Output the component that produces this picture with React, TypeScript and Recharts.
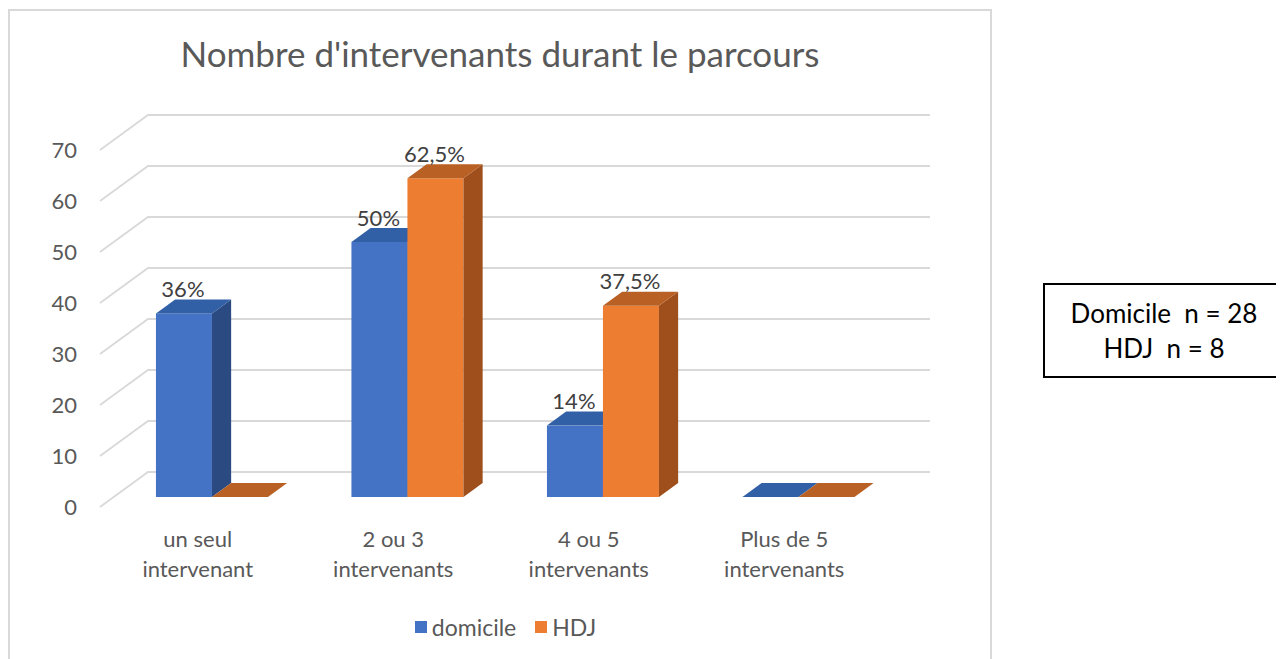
import React from "react";
import { BarChart, Bar, XAxis, YAxis, CartesianGrid, Legend, LabelList } from "recharts";

const categories = ["un seul intervenant", "2 ou 3 intervenants", "4 ou 5 intervenants", "Plus de 5 intervenants"];
const domicileValues = [36, 50, 14, 0];
const hdjValues = [0, 62.5, 37.5, 0];
const domicileLabels = ["36%", "50%", "14%", ""];
const hdjLabels = ["", "62,5%", "37,5%", ""];
const yTicks = [0, 10, 20, 30, 40, 50, 60, 70];

const data = categories.map((name, i) => ({
  name,
  domicile: domicileValues[i],
  hdj: hdjValues[i],
  domicileLabel: domicileLabels[i],
  hdjLabel: hdjLabels[i],
}));

// oblique depth of the floor (front edge -> back wall)
const DX = 48;
const DY = 35;
const BAR_FRONT = 10 / 35;
const BAR_BACK = 24 / 35;
const FONT = "Lato, 'Open Sans', sans-serif";
const TEXT = "#595959";

const COLORS = {
  domicile: { front: "#4472C4", top: "#3260A6", side: "#2B4A82" },
  hdj: { front: "#ED7D31", top: "#B96024", side: "#9E4F1C" },
};

function make3DBar(c: { front: string; top: string; side: string }) {
  return (props: any) => {
    const { x, y, width, height } = props;
    const fx = x + DX * BAR_FRONT;
    const fy = y - DY * BAR_FRONT;
    const dx = DX * (BAR_BACK - BAR_FRONT);
    const dy = DY * (BAR_BACK - BAR_FRONT);
    const h = Math.max(0, height);
    return (
      <g>
        {h > 0 && <rect x={fx} y={fy} width={width} height={h} fill={c.front} />}
        {h > 0 && (
          <path
            d={`M${fx + width},${fy} L${fx + width + dx},${fy - dy} L${fx + width + dx},${fy + h - dy} L${fx + width},${fy + h} Z`}
            fill={c.side}
          />
        )}
        <path
          d={`M${fx},${fy} L${fx + dx},${fy - dy} L${fx + width + dx},${fy - dy} L${fx + width},${fy} Z`}
          fill={c.top}
        />
      </g>
    );
  };
}

const renderValueLabel = (props: any) => {
  const vb = props.viewBox ?? props;
  const { x, y, width } = vb;
  if (!props.value) return null;
  return (
    <text
      x={x + DX * BAR_FRONT + width / 2 - 1}
      y={y - DY * BAR_BACK - 11}
      textAnchor="middle"
      dominantBaseline="central"
      fontSize={22}
      fill="#404040"
      fontFamily={FONT}
    >
      {props.value}
    </text>
  );
};

const gridLine = (props: any) => {
  const { x1, x2, y1, index } = props;
  return (
    <path
      key={`g-${index}-${y1}`}
      d={`M${x1},${y1} L${x1 + DX},${y1 - DY} L${x2 + DX},${y1 - DY}`}
      fill="none"
      stroke="#D9D9D9"
      strokeWidth={1.8}
    />
  );
};

const CategoryTick = (props: any) => {
  const { x, y, payload } = props;
  const s: string = payload.value;
  const cut = s.lastIndexOf(" ");
  const lines = [s.slice(0, cut), s.slice(cut + 1)];
  return (
    <g>
      {lines.map((l, i) => (
        <text
          key={i}
          x={x}
          y={y + 29 + i * 30}
          textAnchor="middle"
          dominantBaseline="central"
          fontSize={22}
          fill={TEXT}
          fontFamily={FONT}
        >
          {l}
        </text>
      ))}
    </g>
  );
};

const LegendContent = () => (
  <div
    style={{
      height: 30,
      display: "flex",
      justifyContent: "center",
      alignItems: "center",
      fontFamily: FONT,
      fontSize: 23,
      color: TEXT,
      paddingLeft: 11,
    }}
  >
    <span style={{ width: 12, height: 12, background: COLORS.domicile.front, marginRight: 5 }} />
    <span style={{ marginRight: 19 }}>domicile</span>
    <span style={{ width: 12, height: 12, background: COLORS.hdj.front, marginRight: 5 }} />
    <span>HDJ</span>
  </div>
);

export default function App() {
  return (
    <div style={{ position: "relative", width: 1268, height: 651, fontFamily: FONT }}>
      <div
        style={{
          position: "absolute",
          left: 0,
          top: 1,
          width: 980,
          height: 660,
          borderTop: "2px solid #D9D9D9",
          borderLeft: "2px solid #D9D9D9",
          borderRight: "2px solid #D9D9D9",
        }}
      />
      <div
        style={{
          position: "absolute",
          left: 0,
          width: 984,
          top: 25,
          textAlign: "center",
          fontSize: 35,
          color: TEXT,
          lineHeight: "40px",
        }}
      >
        Nombre d'intervenants durant le parcours
      </div>
      <div style={{ position: "absolute", left: 0, top: 0 }}>
        <BarChart
          width={984}
          height={651}
          data={data}
          margin={{ top: 142, right: 110, bottom: 17, left: 32 }}
          barCategoryGap="21.6%"
          barGap={0}
        >
          <CartesianGrid vertical={false} horizontal={gridLine} />
          <XAxis
            dataKey="name"
            axisLine={false}
            tickLine={false}
            tickSize={0}
            height={105}
            interval={0}
            tick={<CategoryTick />}
          />
          <YAxis
            domain={[0, 70]}
            ticks={yTicks}
            axisLine={false}
            tickLine={false}
            tickSize={0}
            tickMargin={23}
            width={60}
            tick={{ fill: TEXT, fontSize: 22, fontFamily: FONT }}
          />
          <Legend verticalAlign="bottom" wrapperStyle={{ left: 0, width: 984 }} content={<LegendContent />} />
          <Bar dataKey="domicile" name="domicile" shape={make3DBar(COLORS.domicile)} isAnimationActive={false}>
            <LabelList dataKey="domicileLabel" content={renderValueLabel} />
          </Bar>
          <Bar dataKey="hdj" name="HDJ" shape={make3DBar(COLORS.hdj)} isAnimationActive={false}>
            <LabelList dataKey="hdjLabel" content={renderValueLabel} />
          </Bar>
        </BarChart>
      </div>
      <div
        style={{
          position: "absolute",
          left: 1035,
          top: 275,
          width: 238,
          height: 91,
          border: "2px solid #000",
          display: "flex",
          flexDirection: "column",
          justifyContent: "center",
          alignItems: "center",
          fontSize: 26,
          lineHeight: "35px",
          color: "#000",
          whiteSpace: "pre",
        }}
      >
        <div>{"Domicile  n = 28"}</div>
        <div>{"HDJ  n = 8"}</div>
      </div>
    </div>
  );
}
